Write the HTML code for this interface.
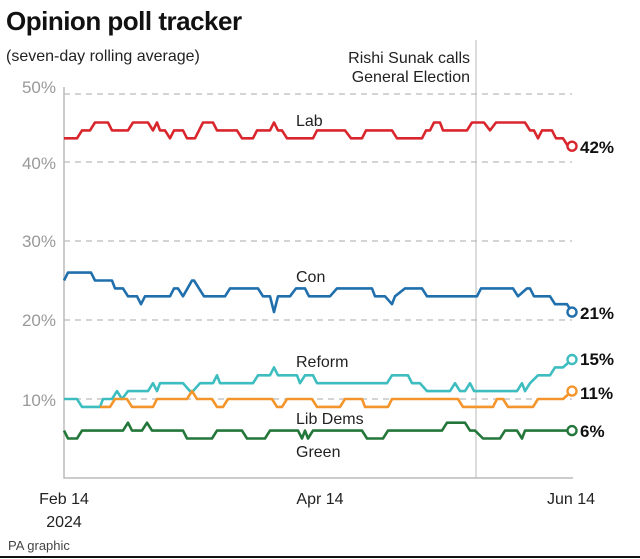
<!DOCTYPE html>
<html><head><meta charset="utf-8"><style>
html,body{margin:0;padding:0;background:#fff;width:640px;height:559px;overflow:hidden}
svg{display:block;font-family:"Liberation Sans",sans-serif}
</style></head><body>
<svg id="s" width="640" height="559" viewBox="0 0 640 559">
<text x="6" y="30" font-size="26" font-weight="bold" fill="#111" letter-spacing="-0.5">Opinion poll tracker</text>
<text x="6" y="61" font-size="16" fill="#222">(seven-day rolling average)</text>
<text x="470" y="63" font-size="16" fill="#222" text-anchor="end">Rishi Sunak calls</text>
<text x="470" y="82" font-size="16" fill="#222" text-anchor="end">General Election</text>
<line x1="476" y1="40" x2="476" y2="478" stroke="#d0d0d0" stroke-width="1.5"/>
<g stroke="#bbb" stroke-width="1.2" stroke-dasharray="6,5">
<line x1="64" y1="94" x2="572" y2="94"/><line x1="64" y1="162" x2="572" y2="162"/>
<line x1="64" y1="241" x2="572" y2="241"/><line x1="64" y1="320" x2="572" y2="320"/>
<line x1="64" y1="399" x2="572" y2="399"/>
</g>
<polyline points="64,87 64,478 573,478" fill="none" stroke="#bbb" stroke-width="1.5"/>
<g font-size="17" fill="#999" text-anchor="end">
<text x="56" y="93">50%</text><text x="56" y="169">40%</text><text x="56" y="247">30%</text>
<text x="56" y="326">20%</text><text x="56" y="406">10%</text>
</g>
<g font-size="16" fill="#222">
<text x="296" y="126">Lab</text><text x="296" y="282">Con</text><text x="296" y="367">Reform</text>
<text x="296" y="424">Lib Dems</text><text x="296" y="457">Green</text>
</g>
<g id="lines"></g>
<g font-size="17" font-weight="bold" fill="#111">
<text x="580" y="153">42%</text><text x="580" y="319">21%</text><text x="580" y="365">15%</text>
<text x="580" y="399">11%</text><text x="580" y="437">6%</text>
</g>
<g font-size="16" fill="#222" text-anchor="middle">
<text x="64" y="504">Feb 14</text><text x="64" y="527">2024</text>
<text x="320" y="504">Apr 14</text><text x="571" y="504">Jun 14</text>
</g>
<text x="8" y="550" font-size="13" fill="#444">PA graphic</text>
<line x1="0" y1="557" x2="640" y2="557" stroke="#111" stroke-width="2"/>
</svg>
<script>
const Y=v=>478-v*7.9;
const S=[
["#d9262d",[64,43,77,43,82,44,90,44,95,45,108,45,112,44,128,44,133,45,148,45,153,44,157,45,160,44,165,44,170,43,174,44,183,44,187,43,195,43,203,45,213,45,217,44,237,44,242,43,253,43,257,44,270,44,274,45,278,44,282,44,287,43,313,43,317,44,345,44,351,43,362,43,366,44,392,44,397,43,422,43,426,44,430,44,434,45,440,45,443,44,467,44,472,45,484,45,490,44,496,45,525,45,530,44,534,44,538,43,542,44,552,44,556,43,563,43,568,42,572,42]],
["#1f6fad",[64,25,68,26,91,26,95,25,112,25,115,24,123,24,128,23,137,23,141,22,145,23,170,23,174,24,178,24,183,23,192,25,194,25,204,23,225,23,230,24,258,24,263,23,270,23,274,21,278,23,290,23,296,24,305,24,309,23,330,23,337,24,372,24,375,23,385,23,392,22,395,23,405,24,422,24,427,23,477,23,481,24,513,24,518,23,527,24,530,24,534,23,550,23,555,22,567,22,572,21]],
["#3dbdbf",[64,10,77,10,82,9,100,9,103,10,112,10,117,11,122,10,128,11,148,11,153,12,157,11,160,12,183,12,190,11,193,11,200,12,213,12,217,13,220,12,253,12,258,13,270,13,274,14,278,13,297,13,300,12,305,13,313,13,317,12,387,12,392,13,408,13,412,12,420,12,427,11,450,11,455,12,460,11,465,11,470,12,474,11,517,11,522,12,525,11,530,12,538,13,550,13,555,14,563,14,572,15]],
["#f3952b",[100,9,110,9,115,10,127,10,132,9,153,9,157,10,187,10,192,11,197,10,212,10,217,9,223,9,228,10,272,10,277,9,282,9,287,10,312,10,317,9,340,9,345,10,362,10,365,9,388,9,392,10,458,10,463,9,493,9,497,10,503,10,508,9,533,9,538,10,563,10,572,11]],
["#24773a",[64,6,68,5,77,5,82,6,123,6,128,7,132,6,142,6,147,7,152,6,183,6,187,5,212,5,217,6,242,6,247,5,265,5,270,6,298,6,302,5,305,6,308,5,313,6,362,6,367,5,383,5,388,6,442,6,447,7,465,7,470,6,475,6,483,5,500,5,505,6,517,6,522,5,525,6,572,6]]
];
let h="";
for(const [c,a] of S){let p=[];for(let i=0;i<a.length;i+=2)p.push(a[i]+","+Y(a[i+1]).toFixed(1));
h+=`<polyline points="${p.join(" ")}" fill="none" stroke="${c}" stroke-width="2.6" stroke-linejoin="round"/>`;
const e=a.length;h+=`<circle cx="${a[e-2]}" cy="${Y(a[e-1])}" r="4.5" fill="#fff" stroke="${c}" stroke-width="2.4"/>`;}
document.getElementById("lines").innerHTML=h;
</script>
</body></html>
